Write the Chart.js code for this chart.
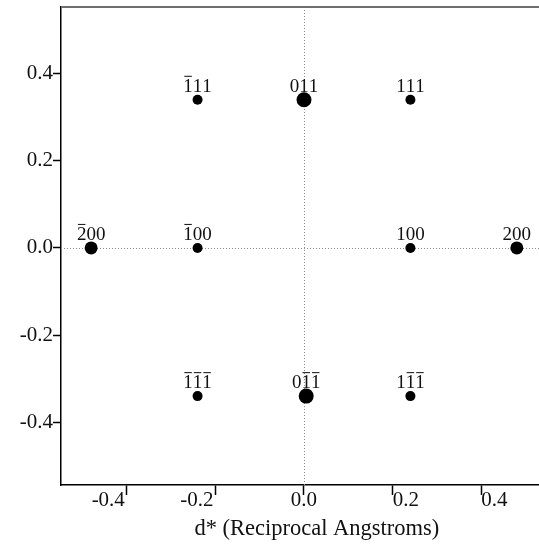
<!DOCTYPE html>
<html>
<head>
<meta charset="utf-8">
<script src="https://cdn.jsdelivr.net/npm/chart.js@4"></script>
<style>
  html, body { margin: 0; padding: 0; background: #fff; overflow: hidden; }
  #wrap { width: 539px; height: 550px; }
</style>
</head>
<body>
<div id="wrap"><canvas id="spotChart"></canvas></div>
<script>
// 회절 반점 데이터 (d*, 역격자 옹스트롬)
const spotLabels = ['1\u030511', '011', '111', '2\u030500', '1\u030500', '100', '200', '1\u03051\u03051\u0305', '01\u03051\u0305', '11\u03051\u0305'];
const spotX = [-0.24, 0.0, 0.24, -0.48, -0.24, 0.24, 0.48, -0.24, 0.005, 0.24];
const spotY = [0.34, 0.34, 0.34, 0.0, 0.0, 0.0, 0.0, -0.34, -0.34, -0.34];
const spotIntensity = [1, 3, 1, 2, 1, 1, 2, 1, 3, 1]; // 반점 세기 (1 약, 3 강)

const xTicks = [-0.4, -0.2, 0.0, 0.2, 0.4];
const yTicks = [-0.4, -0.2, 0.0, 0.2, 0.4];
const xTitle = 'd* (Reciprocal Angstroms)';

const serif = '"Liberation Serif", "DejaVu Serif", serif';

// 세기 -> 점 크기
function spotRadius(s) {
    return s === 3 ? 7.5 : (s === 2 ? 6.5 : 5);
}

// x 눈금 글자: 원본처럼 음수는 눈금 왼쪽, 양수는 오른쪽에 붙임
function xTickText(v) {
    const t = v.toFixed(1);
    if (v < 0) return t + '       ';
    if (v > 0) return '     ' + t;
    return t;
}

// 윗줄(바) 표시가 있는 밀러 지수 그리기
function drawHkl(ctx, text, cx, baseY) {
    const chars = [];
    for (const ch of text) {
        if (ch === '\u0305') {
            if (chars.length) chars[chars.length - 1].bar = true;
        } else {
            chars.push({ ch: ch, bar: false });
        }
    }
    let total = 0;
    chars.forEach(c => { c.w = ctx.measureText(c.ch).width; total += c.w; });
    let x = cx - total / 2;
    chars.forEach(c => {
        ctx.fillText(c.ch, x, baseY);
        if (c.bar) {
            ctx.beginPath();
            ctx.moveTo(x + 1, baseY - 15.5);
            ctx.lineTo(x + c.w - 1, baseY - 15.5);
            ctx.stroke();
        }
        x += c.w;
    });
}

const spotPlugin = {
    id: 'spotPlugin',
    beforeDatasetsDraw(chart) {
        const { ctx, chartArea, scales } = chart;
        // 0 위치 점선
        ctx.save();
        ctx.strokeStyle = '#8a8a8a';
        ctx.lineWidth = 1;
        ctx.setLineDash([1, 2]);
        const x0 = Math.round(scales.x.getPixelForValue(0)) + 0.5;
        const y0 = Math.round(scales.y.getPixelForValue(0)) + 0.5;
        ctx.beginPath();
        ctx.moveTo(x0, chartArea.top);
        ctx.lineTo(x0, chartArea.bottom);
        ctx.moveTo(chartArea.left, y0);
        ctx.lineTo(chartArea.right, y0);
        ctx.stroke();
        // 위쪽 테두리
        ctx.setLineDash([]);
        ctx.strokeStyle = '#6e6e6e';
        ctx.lineWidth = 2;
        ctx.beginPath();
        ctx.moveTo(chartArea.left, chartArea.top);
        ctx.lineTo(chartArea.right, chartArea.top);
        ctx.stroke();
        ctx.restore();
    },
    afterDatasetsDraw(chart) {
        const ctx = chart.ctx;
        const meta = chart.getDatasetMeta(0);
        ctx.save();
        ctx.font = '19px ' + serif;
        ctx.fillStyle = '#111';
        ctx.strokeStyle = '#222';
        ctx.lineWidth = 1.1;
        ctx.textBaseline = 'alphabetic';
        ctx.textAlign = 'left';
        meta.data.forEach((pt, i) => {
            drawHkl(ctx, spotLabels[i], pt.x, pt.y - 8);
        });
        ctx.restore();
    }
};

// 차트 생성
const ctx = document.getElementById('spotChart').getContext('2d');
new Chart(ctx, {
    type: 'scatter',
    data: {
        datasets: [{
            label: 'spots',
            data: spotX.map((x, i) => ({ x: x, y: spotY[i] })),
            backgroundColor: '#000',
            borderColor: '#000',
            borderWidth: 0,
            pointRadius: spotIntensity.map(spotRadius),
            pointHoverRadius: spotIntensity.map(spotRadius)
        }]
    },
    options: {
        responsive: true,
        maintainAspectRatio: false,
        animation: false,
        events: [],
        layout: { autoPadding: false, padding: { top: 7, right: 0, bottom: 0, left: 0 } },
        plugins: { legend: { display: false }, tooltip: { enabled: false } },
        scales: {
            x: {
                type: 'linear',
                min: -0.548,
                max: 0.53,
                afterBuildTicks: scale => { scale.ticks = xTicks.map(v => ({ value: v })); },
                afterFit: scale => { scale.height = 65; scale.paddingLeft = 0; scale.paddingRight = 0; },
                grid: { drawOnChartArea: false, drawTicks: true, tickLength: 10, tickColor: '#000', tickWidth: 1.5 },
                border: { color: '#000', width: 1.5 },
                ticks: {
                    color: '#111',
                    padding: -7,
                    maxRotation: 0,
                    font: { family: serif, size: 21 },
                    callback: v => xTickText(v)
                },
                title: {
                    display: true,
                    text: '      ' + xTitle,
                    color: '#111',
                    font: { family: serif, size: 22.5 },
                    padding: { top: 1, bottom: 7 }
                }
            },
            y: {
                type: 'linear',
                min: -0.544,
                max: 0.553,
                afterBuildTicks: scale => { scale.ticks = yTicks.map(v => ({ value: v })); },
                afterFit: scale => { scale.width = 61; scale.paddingTop = 0; scale.paddingBottom = 0; },
                grid: { drawOnChartArea: false, drawTicks: true, tickLength: 8, tickColor: '#000', tickWidth: 1.5 },
                border: { color: '#000', width: 1.5 },
                ticks: {
                    color: '#111',
                    padding: 0,
                    font: { family: serif, size: 21 },
                    callback: v => v.toFixed(1)
                }
            }
        }
    },
    plugins: [spotPlugin]
});
</script>
</body>
</html>
